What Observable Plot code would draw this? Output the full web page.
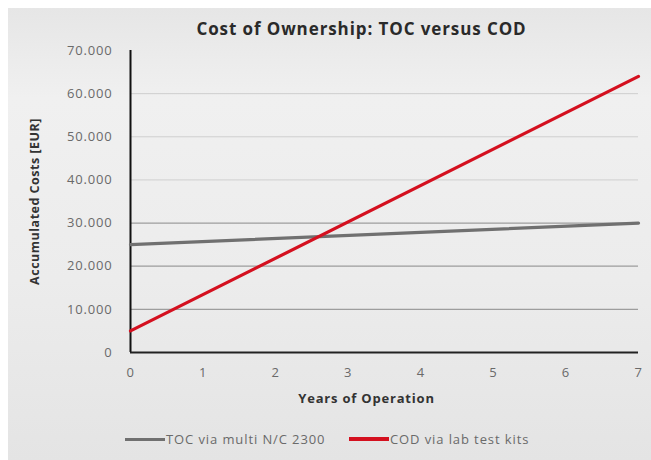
<!DOCTYPE html>
<html>
<head>
<meta charset="utf-8">
<script src="https://cdn.jsdelivr.net/npm/d3@7"></script>
<script src="https://cdn.jsdelivr.net/npm/@observablehq/plot@0.6"></script>
<style>
  html, body { margin: 0; padding: 0; background: #ffffff; }
  #wrap {
    position: absolute; left: 8px; top: 8px; width: 643px; height: 452px;
    background: linear-gradient(180deg, #e6e6e6 0%, #f0f0f0 20%, #ececec 60%, #e4e4e4 100%);
    font-family: "Open Sans", "Noto Sans", sans-serif;
    overflow: hidden;
  }
  #title {
    height: 34px; line-height: 42px; text-align: center; padding-left: 64px;
    font-size: 17px; font-weight: bold; color: #2a2a2a; letter-spacing: 0.9px;
  }
  #chart svg { display: block; }
  #legend {
    position: absolute; top: 420px; left: 0; width: 643px; height: 22px;
    font-size: 13px; color: #6a6a6a; letter-spacing: 0.9px;
  }
  .item { position: absolute; top: 2px; display: flex; align-items: center; }
  .swatch { display: inline-block; width: 40px; margin-right: 1px; }
</style>
</head>
<body>
<div id="wrap">
  <div id="title">Cost of Ownership: TOC versus COD</div>
  <div id="chart"></div>
  <div id="legend"></div>
</div>
<script>
// Data
const years = [0, 7];
const tocValues = [25000, 30000];
const codValues = [5000, 64000];
const seriesNames = ["TOC via multi N/C 2300", "COD via lab test kits"];
const seriesColors = ["#707070", "#d4101f"];
const xTicks = [0, 1, 2, 3, 4, 5, 6, 7];
const yTicks = [0, 10000, 20000, 30000, 40000, 50000, 60000, 70000];
const gridLower = [10000, 20000, 30000];
const gridUpper = [40000, 50000, 60000];

const rows = [];
years.forEach((yr, i) => {
  rows.push({series: seriesNames[0], year: yr, value: tocValues[i]});
  rows.push({series: seriesNames[1], year: yr, value: codValues[i]});
});

const fmt = d3.formatLocale({decimal: ",", thousands: ".", grouping: [3], currency: ["", "€"]}).format(",d");

const plot = Plot.plot({
  width: 643,
  height: 375,
  marginTop: 8,
  marginBottom: 65,
  marginLeft: 122,
  marginRight: 13,
  style: {background: "transparent", fontFamily: "'Open Sans', 'Noto Sans', sans-serif", fontSize: "13px", color: "#6a6a6a", letterSpacing: "0.8px"},
  x: {domain: [0, 7]},
  y: {domain: [0, 70000]},
  marks: [
    Plot.gridY(gridLower, {stroke: "#8a8a8a", strokeOpacity: 0.8, strokeWidth: 1.2}),
    Plot.gridY(gridUpper, {stroke: "#cfcfcf", strokeOpacity: 1, strokeWidth: 1}),
    Plot.axisY({ticks: yTicks, tickFormat: fmt, tickSize: 0, tickPadding: 18, fill: "#6a6a6a",
      label: "Accumulated Costs [EUR]", labelAnchor: "center", labelArrow: "none", labelOffset: 100}),
    Plot.axisX({ticks: xTicks, tickFormat: d => String(d), tickSize: 0, tickPadding: 15, fill: "#6a6a6a",
      label: null}),
    Plot.ruleX([0], {y1: 0, y2: 70000, stroke: "#111", strokeWidth: 2}),
    Plot.ruleY([0], {stroke: "#222", strokeWidth: 2}),
    Plot.line(rows, {x: "year", y: "value", z: "series", stroke: "series", strokeWidth: 3.2}),
    Plot.text(["Years of Operation"], {frameAnchor: "bottom", dy: 50, dx: -18, fontWeight: "bold", fontSize: 13, fill: "#333"})
  ],
  color: {domain: seriesNames, range: seriesColors}
});
document.getElementById("chart").appendChild(plot);

// style the y label
d3.select(plot).selectAll("g[aria-label='y-axis label']")
  .attr("font-weight", "bold").attr("fill", "#333").style("font-size", "12.5px").style("letter-spacing", "0.5px");

// Legend
const legend = d3.select("#legend");
const lpos = [117, 341];
seriesNames.forEach((name, i) => {
  const item = legend.append("div").attr("class", "item").style("left", lpos[i] + "px");
  item.append("span").attr("class", "swatch")
    .style("height", i === 0 ? "3px" : "4px").style("background", seriesColors[i]);
  item.append("span").text(name);
});
</script>
</body>
</html>
